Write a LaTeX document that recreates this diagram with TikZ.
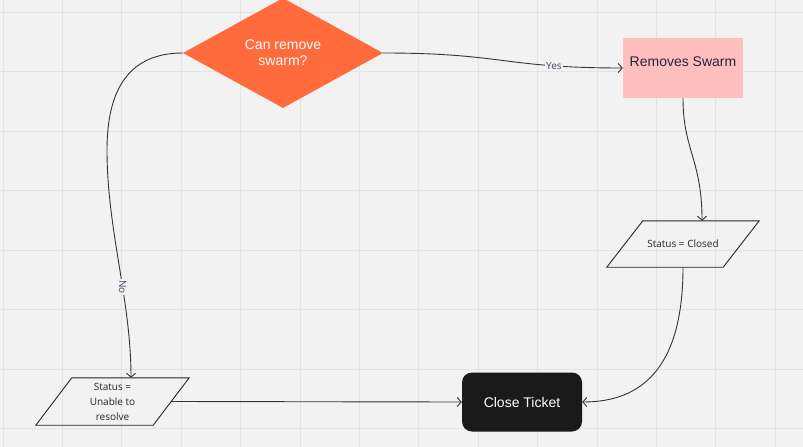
\documentclass[tikz,border=0pt]{standalone}
\usepackage{fontspec}
\setmainfont{Liberation Sans}
\newfontfamily\smallfont{Open Sans}
\usetikzlibrary{shapes.geometric,arrows.meta}
\definecolor{bg}{HTML}{F2F2F2}
\definecolor{gridc}{HTML}{E3E3E3}
\definecolor{orangec}{HTML}{FF6B3B}
\definecolor{pinkc}{HTML}{FFBFBF}
\definecolor{darkc}{HTML}{1A1A1A}
\definecolor{linec}{HTML}{333333}
\definecolor{labc}{HTML}{46466A}
\definecolor{rstext}{HTML}{2B2238}
\begin{document}
\begin{tikzpicture}[x=1pt,y=-1pt,
  conn/.style={draw=linec, line width=0.9pt, -{Straight Barb[length=4pt,width=9pt,line width=0.9pt]}},
  lab/.style={fill=bg, text=labc, font=\smallfont\fontsize{10}{12}\selectfont, inner sep=1pt},
  bigtext/.style={font=\fontsize{14}{16}\selectfont},
  iotext/.style={font=\smallfont\fontsize{10}{15}\selectfont, text=black!85, align=center, inner sep=0pt},
  pline/.style={draw=black!85, line width=0.9pt},
  decision/.style={diamond, fill=orangec, text=white, bigtext, align=center, minimum width=200pt, minimum height=110pt, inner sep=0pt, aspect=2},
  process/.style={rectangle, fill=pinkc, text=rstext, bigtext, minimum width=120pt, minimum height=60pt, inner sep=0pt},
  terminal/.style={rectangle, rounded corners=10pt, fill=darkc, text=white, bigtext, minimum width=120pt, minimum height=59pt, inner sep=0pt}
]
\fill[bg] (0,0) rectangle (803,447);
\useasboundingbox (0,0) rectangle (803,447);
\foreach \i in {0,...,13} \draw[gridc, line width=0.8pt] ({3+59.4*\i},0) -- ({3+59.4*\i},447);
\foreach \j in {0,...,7} \draw[gridc, line width=0.8pt] (0,{12+59.5*\j}) -- (803,{12+59.5*\j});

\node[decision] (dec) at (283,53) {Can remove\\swarm?};
\node[process] (rs) at (683,68) {\raisebox{2pt}[0pt][0pt]{Removes Swarm}};
\node[iotext, minimum width=116pt, minimum height=46pt] (sc) at (683,244) {Status = Closed};
\draw[pline] ([xshift=-18pt]sc.south west) -- ([xshift=18pt]sc.north west) -- ([xshift=18pt]sc.north east) -- ([xshift=-18pt]sc.south east) -- cycle;
\node[iotext, minimum width=117pt, minimum height=47pt] (ua) at (112.5,401.5) {Status =\\Unable to\\resolve};
\draw[pline] ([xshift=-18pt]ua.south west) -- ([xshift=18pt]ua.north west) -- ([xshift=18pt]ua.north east) -- ([xshift=-18pt]ua.south east) -- cycle;
\node[terminal] (ct) at (522,402) {Close Ticket};

\draw[conn] (dec.east) .. controls (503,53) and (503,68) .. node[lab, pos=0.76] {Yes} (rs.west);
\draw[conn] (dec.west) .. controls (125,53) and (107,95) .. (107,150) .. controls (107,230) and (131,300) .. node[lab, pos=0.6, rotate=-90] {No} ([xshift=18.5pt]ua.north);
\draw[conn] (rs.south) .. controls (683,150) and (702,160) .. ([xshift=19pt]sc.north);
\draw[conn] (sc.south) .. controls (683,370) and (640,402) .. (ct.east);
\draw[conn] (ua.east) -- (ct.west);
\end{tikzpicture}
\end{document}
